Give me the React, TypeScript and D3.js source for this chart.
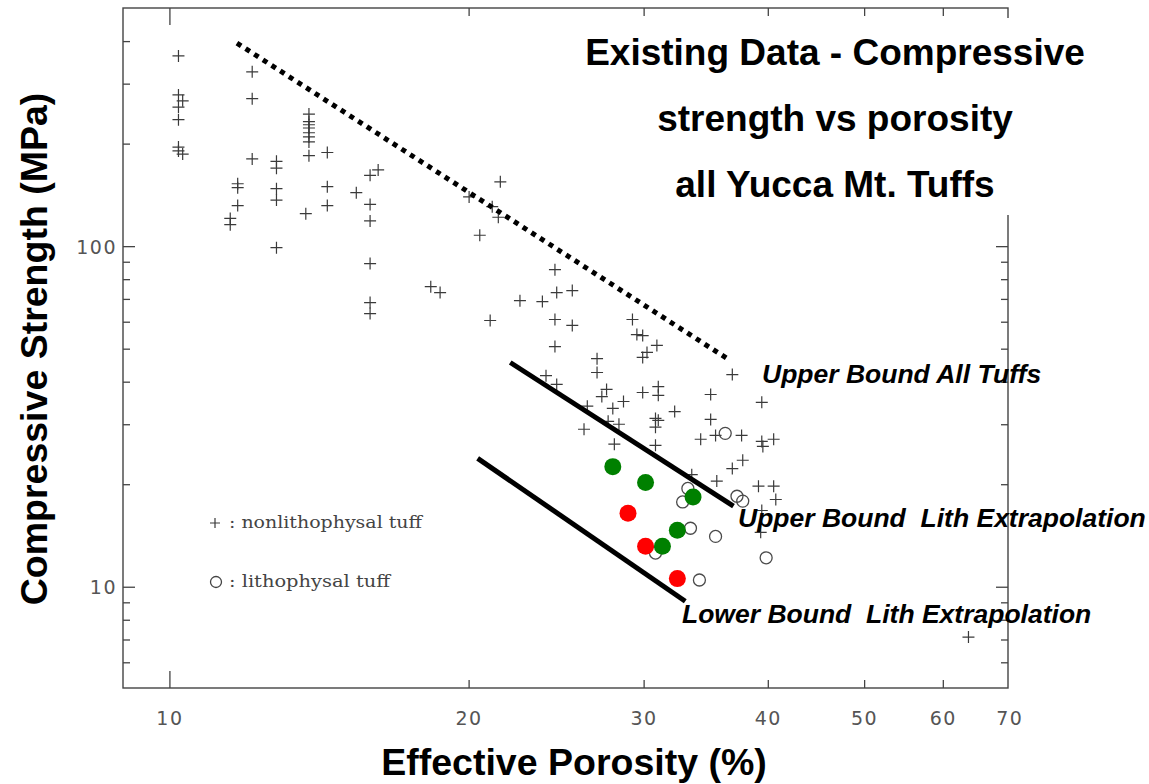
import * as d3 from 'd3';

// [effective porosity %, compressive strength MPa]
const nonlithophysal: [number, number][] = [
  [10.2, 363], [10.2, 279], [10.3, 268], [10.2, 257], [10.2, 236], [10.2, 196], [10.2, 191], [10.3, 187],
  [12.1, 326], [12.1, 272], [12.1, 181],
  [11.7, 153], [11.7, 149], [11.7, 132], [11.5, 121], [11.5, 116],
  [12.8, 178], [12.8, 170], [12.8, 148], [12.8, 137], [12.8, 99.3],
  [13.8, 245], [13.8, 233], [13.8, 228], [13.8, 223], [13.8, 216], [13.8, 210], [13.8, 203], [13.8, 185],
  [14.4, 189], [14.4, 150], [14.4, 132], [13.7, 125],
  [16.2, 168], [15.9, 162], [15.4, 144], [15.9, 133], [15.9, 119], [15.9, 89.2], [15.9, 68.5], [15.9, 63.6],
  [18.3, 76.3], [18.7, 73.3],
  [21.5, 155], [20.0, 140], [21.1, 131], [21.4, 122],
  [20.5, 108], [21.0, 60.7], [22.5, 69.4], [23.7, 69.0],
  [24.4, 85.6], [24.5, 73.3], [25.4, 74.3], [24.4, 61.1], [25.4, 58.7], [24.4, 50.9],
  [29.2, 61.1], [29.5, 55.2], [29.9, 54.8], [30.9, 51.3], [30.2, 48.9], [29.9, 47.3],
  [26.9, 46.9], [26.9, 42.7], [23.9, 41.8], [24.5, 39.4],
  [27.5, 38.1], [27.2, 36.3], [28.6, 35.1], [29.9, 37.3], [31.0, 38.8], [31.0, 36.6],
  [27.9, 33.5], [26.3, 34.0], [32.2, 32.8],
  [27.6, 30.7], [28.3, 30.1], [30.8, 31.3], [31.0, 30.9], [30.8, 29.5], [26.1, 29.1],
  [28.0, 26.3], [30.8, 26.1],
  [35.0, 36.8], [35.0, 31.1], [34.2, 27.2], [35.4, 27.9], [37.6, 27.9],
  [39.4, 34.9], [39.4, 26.8], [39.5, 25.9], [40.5, 27.2],
  [37.7, 23.6], [36.8, 22.3], [35.5, 20.5], [33.5, 21.4],
  [39.1, 19.8], [40.5, 19.8], [40.7, 18.1], [39.4, 16.8], [39.3, 14.5],
  [36.8, 42.1], [63.6, 7.14],
];

const lithophysal: [number, number][] = [
  [36.2, 28.3], [37.2, 18.5], [37.7, 17.9], [32.8, 17.8], [33.2, 19.5],
  [33.4, 14.9], [35.4, 14.1], [30.8, 12.6], [34.1, 10.5], [39.8, 12.2],
];

const greenSamples: [number, number][] = [
  [27.9, 22.6], [30.1, 20.3], [33.6, 18.4], [32.4, 14.7], [31.3, 13.2],
];
const redSamples: [number, number][] = [
  [28.9, 16.5], [30.1, 13.2], [32.4, 10.6],
];

const upperBoundAll: [number, number][] = [[11.68, 396], [36.5, 46.6]];
const upperBoundLith: [number, number][] = [[22.0, 45.7], [36.9, 17.3]];
const lowerBoundLith: [number, number][] = [[20.4, 23.9], [33.0, 9.1]];

const xTicks = [10, 20, 30, 40, 50, 60, 70];
const yMajor = [10, 100];
const yMinor = [6, 7, 8, 9, 20, 30, 40, 50, 60, 70, 80, 90, 200, 300, 400];

const titleLines = ['Existing Data - Compressive', 'strength vs porosity', 'all Yucca Mt. Tuffs'];

const FRAME = { left: 123, right: 1008, top: 8, bottom: 688 };
const INK = '#444';

export default function App() {
  const x = d3.scaleLog().domain([8.97, 69.7]).range([FRAME.left, FRAME.right]);
  const y = d3.scaleLog().domain([5.06, 502]).range([FRAME.bottom, FRAME.top]);
  const line = d3.line<[number, number]>().x(d => x(d[0])).y(d => y(d[1]));

  const plus = (cx: number, cy: number, key: string | number, s = 6) => (
    <path key={key} d={`M${cx - s},${cy}H${cx + s}M${cx},${cy - s}V${cy + s}`}
      stroke="#3a3a3a" strokeWidth={1.2} fill="none" />
  );

  return (
    <svg width={1149} height={784} style={{ position: 'absolute', left: 0, top: 0, background: '#fff' }}>
      {/* frame */}
      <rect x={FRAME.left} y={FRAME.top} width={FRAME.right - FRAME.left} height={FRAME.bottom - FRAME.top}
        fill="none" stroke={INK} strokeWidth={1.4} />

      {/* x ticks, bottom and top */}
      {xTicks.filter(t => t < 70).map(t => {
        const len = t === 10 ? 17 : 8;
        return (
          <g key={`xt-${t}`} stroke={INK} strokeWidth={1.3}>
            <line x1={x(t)} x2={x(t)} y1={FRAME.bottom} y2={FRAME.bottom - len} />
            <line x1={x(t)} x2={x(t)} y1={FRAME.top} y2={FRAME.top + len} />
          </g>
        );
      })}
      {xTicks.map(t => (
        <text key={`xl-${t}`} x={x(t)} y={725} textAnchor="middle" fontFamily="DejaVu Sans"
          fontSize={19} fill="#555" letterSpacing={1.5}>{t}</text>
      ))}

      {/* y ticks, left and right */}
      {[...yMajor, ...yMinor].map(t => {
        const len = yMajor.includes(t) ? 12 : 7;
        return (
          <g key={`yt-${t}`} stroke={INK} strokeWidth={1.3}>
            <line x1={FRAME.left} x2={FRAME.left + len} y1={y(t)} y2={y(t)} />
            <line x1={FRAME.right} x2={FRAME.right - len} y1={y(t)} y2={y(t)} />
          </g>
        );
      })}
      {yMajor.map(t => (
        <text key={`yl-${t}`} x={117} y={y(t) + 7} textAnchor="end" fontFamily="DejaVu Sans"
          fontSize={19} fill="#555" letterSpacing={1.5}>{t}</text>
      ))}

      {/* data */}
      {nonlithophysal.map((d, i) => plus(x(d[0]), y(d[1]), `p-${i}`))}
      {lithophysal.map((d, i) => (
        <circle key={`c-${i}`} cx={x(d[0])} cy={y(d[1])} r={6} fill="none" stroke="#4a4a4a" strokeWidth={1.3} />
      ))}

      {/* bounds */}
      <path d={line(upperBoundAll) ?? ''} stroke="#000" strokeWidth={5} strokeDasharray="5,5.3" fill="none" />
      <path d={line(upperBoundLith) ?? ''} stroke="#000" strokeWidth={5} fill="none" />
      <path d={line(lowerBoundLith) ?? ''} stroke="#000" strokeWidth={5} fill="none" />

      {greenSamples.map((d, i) => (
        <circle key={`g-${i}`} cx={x(d[0])} cy={y(d[1])} r={8.5} fill="#008000" />
      ))}
      {redSamples.map((d, i) => (
        <circle key={`r-${i}`} cx={x(d[0])} cy={y(d[1])} r={8.5} fill="#ff0000" />
      ))}

      {/* legend */}
      {plus(215, 523, 'leg-plus', 5)}
      <text x={229} y={528} fontFamily="DejaVu Serif" fontSize={16} fill={INK}
        textLength={193} lengthAdjust="spacingAndGlyphs">: nonlithophysal tuff</text>
      <circle cx={216} cy={582} r={5.5} fill="none" stroke={INK} strokeWidth={1.3} />
      <text x={229} y={587} fontFamily="DejaVu Serif" fontSize={16} fill={INK}
        textLength={161} lengthAdjust="spacingAndGlyphs">: lithophysal tuff</text>

      {/* title block */}
      <rect x={575} y={18} width={525} height={197} fill="#fff" />
      {titleLines.map((t, i) => (
        <text key={`t-${i}`} x={835} y={65 + i * 66} textAnchor="middle" fontFamily="Liberation Sans, Arial"
          fontWeight="bold" fontSize={37} fill="#000">{t}</text>
      ))}

      {/* annotations */}
      <g fontFamily="Liberation Sans, Arial" fontWeight="bold" fontStyle="italic" fontSize={26.5} fill="#000">
        <text x={762} y={383}>Upper Bound All Tuffs</text>
        <text x={738} y={527} style={{ whiteSpace: 'pre' }}>{'Upper Bound  Lith Extrapolation'}</text>
        <text x={682} y={623} style={{ whiteSpace: 'pre' }}>{'Lower Bound  Lith Extrapolation'}</text>
      </g>

      {/* axis titles */}
      <text x={574} y={775} textAnchor="middle" fontFamily="Liberation Sans, Arial" fontWeight="bold"
        fontSize={37.5} fill="#000">Effective Porosity (%)</text>
      <text transform="translate(47,349) rotate(-90)" textAnchor="middle" fontFamily="Liberation Sans, Arial"
        fontWeight="bold" fontSize={37.5} fill="#000">Compressive Strength (MPa)</text>
    </svg>
  );
}
